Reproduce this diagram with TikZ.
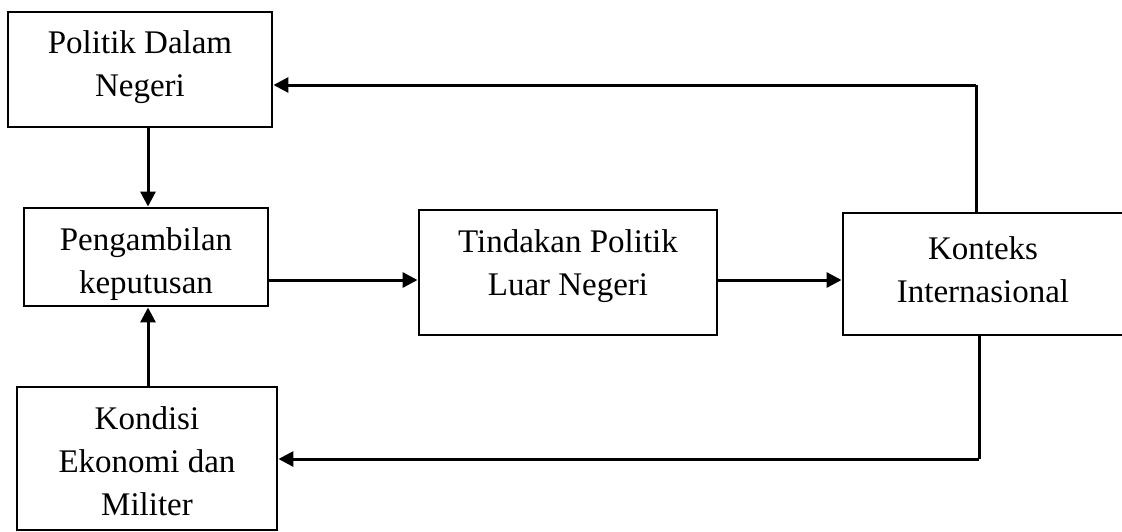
\documentclass[tikz,border=0pt]{standalone}
\usepackage{fontspec}
\setmainfont{Liberation Serif}
\usetikzlibrary{arrows.meta,calc}

\tikzset{
  box/.style={draw, line width=2.9pt, inner sep=0pt},
  lbl/.style={align=center, inner sep=0pt, font=\fontsize{33}{43}\selectfont},
  arr/.style={line width=3pt, -{Triangle[length=15pt,width=15pt]}},
  wire/.style={line width=3pt}
}

\begin{document}
\begin{tikzpicture}[x=1pt,y=-1pt]
  \useasboundingbox (0,0) rectangle (1122,531);

  % boxes
  \node[box, minimum width=264pt, minimum height=115pt] (pdn)  at (140,69.5) {};
  \node[box, minimum width=244pt, minimum height=98pt]  (pk)   at (146,257) {};
  \node[box, minimum width=298pt, minimum height=125pt] (tpln) at (568,272.5) {};
  \node[box, minimum width=282pt, minimum height=122pt] (ki)   at (984,274) {};
  \node[box, minimum width=260pt, minimum height=143pt] (kem)  at (147,458.5) {};

  % labels
  \node[lbl] (pdn-t)  at (140,67)  {Politik Dalam\\Negeri};
  \node[lbl] (pk-t)   at (146,264) {Pengambilan\\keputusan};
  \node[lbl] (tpln-t) at (568,266) {Tindakan Politik\\Luar Negeri};
  \node[lbl] (ki-t)   at (983,270) {Konteks\\Internasional};
  \node[lbl] (kem-t)  at (147,461) {Kondisi\\Ekonomi dan\\Militer};

  % reference columns and rows for the connectors
  \coordinate (vx) at (148,0);
  \coordinate (up) at (976,85);
  \coordinate (dn) at (979,459);
  \coordinate (hy) at (0,280);

  % vertical feeds into the decision box
  \draw[arr] (vx |- pdn.south) -- (vx |- pk.north);
  \draw[arr] (vx |- kem.north) -- (vx |- pk.south);

  % main chain
  \draw[arr] (pk.east |- hy) -- (tpln.west |- hy);
  \draw[arr] (tpln.east |- hy) -- (ki.west |- hy);

  % feedback loops
  \draw[wire] (up |- ki.north) -- (up);
  \draw[arr] (up) -- (pdn.east |- up);
  \draw[wire] (dn |- ki.south) -- (dn);
  \draw[arr] (dn) -- (kem.east |- dn);
\end{tikzpicture}
\end{document}
